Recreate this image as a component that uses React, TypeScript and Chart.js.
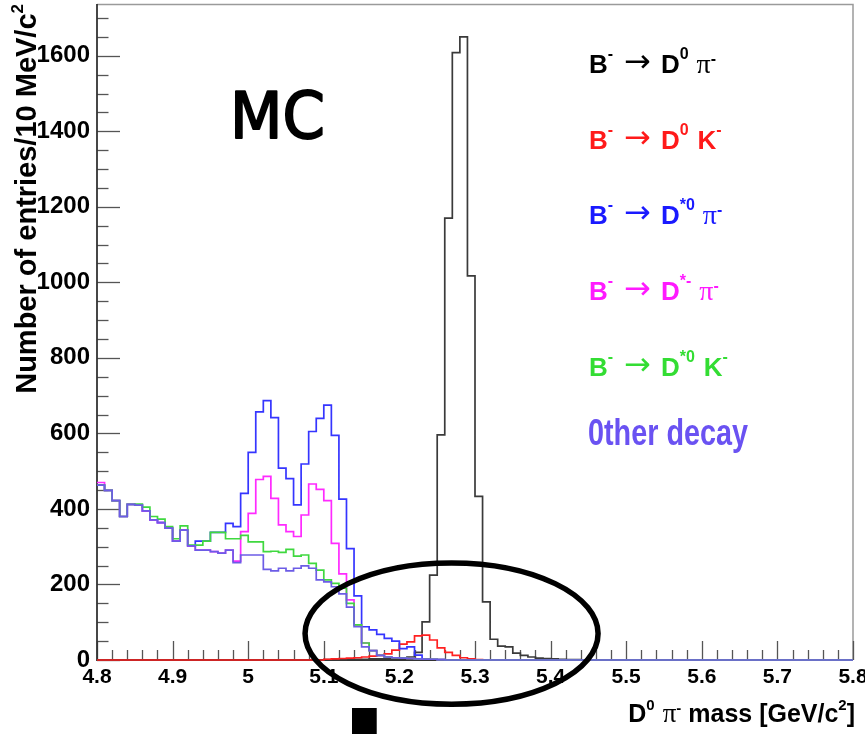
import React, { useEffect, useRef } from 'react';
import { Chart, registerables } from 'chart.js';

Chart.register(...registerables);

// ---------- axis definition ----------
const X_MIN = 4.8;
const X_MAX = 5.8;
const BIN_WIDTH = 0.01; // 10 MeV bins
const N_BINS = 100;
const Y_MIN = 0;
const Y_MAX = 1737;

const xTickValues = [4.8, 4.9, 5.0, 5.1, 5.2, 5.3, 5.4, 5.5, 5.6, 5.7, 5.8];
const xTickLabels = ['4.8', '4.9', '5', '5.1', '5.2', '5.3', '5.4', '5.5', '5.6', '5.7', '5.8'];
const xMinorStep = 0.02;
const yTickValues = [0, 200, 400, 600, 800, 1000, 1200, 1400, 1600];
const yTickLabels = ['0', '200', '400', '600', '800', '1000', '1200', '1400', '1600'];
const yMinorStep = 50;

// ---------- histogram contents (entries per 10 MeV bin, starting at 4.80) ----------
const otherDecay = [
  463, 449, 422, 380, 412, 410, 395, 371, 364, 349,
  315, 344, 302, 291, 291, 287, 283, 291, 258, 278,
  278, 278, 240, 236, 243, 236, 243, 249, 243, 212,
  207, 194, 175, 140, 88, 35, 25, 12, 8, 6,
  5, 4, 3, 2, 2, 1,
];
const dStar0K = [
  463, 449, 422, 380, 412, 413, 405, 380, 373, 353,
  321, 355, 304, 304, 315, 338, 338, 321, 321, 330,
  313, 313, 287, 288, 285, 293, 275, 278, 256, 238,
  212, 203, 190, 150, 93, 45, 25, 12, 8, 6,
  5, 4, 3, 2, 2, 1,
];
const dStarMinusPi = [
  470, 449, 422, 380, 412, 410, 395, 371, 364, 349,
  315, 344, 302, 291, 291, 287, 283, 291, 262, 340,
  388, 478, 486, 428, 358, 340, 327, 384, 466, 452,
  422, 309, 228, 159, 93, 45, 25, 12, 8, 6,
  5, 4, 3, 2, 2, 1,
];
const dStar0Pi = [
  463, 449, 422, 380, 412, 410, 395, 371, 364, 349,
  315, 344, 302, 315, 315, 338, 338, 362, 353, 441,
  550, 657, 687, 642, 508, 480, 411, 519, 605, 640,
  675, 595, 426, 295, 170, 88, 80, 68, 57, 50,
  30, 35, 13, 3, 2, 1,
];
const d0KStartBin = 30; // first listed bin = 5.10
const d0K = [
  2, 3, 4, 5, 6, 8, 10, 12, 16, 26,
  42, 48, 64, 66, 53, 32, 20, 12, 6, 3,
  1,
];
const d0PiStartBin = 30; // first listed bin = 5.10
const d0Pi = [
  1, 1, 1, 2, 2, 2, 3, 3, 4, 4,
  5, 8, 20, 101, 225, 596, 1170, 1608, 1650, 1017,
  433, 154, 55, 37, 35, 18, 12, 8, 5, 4,
  3, 2, 1, 1,
];

// legend: [text, style]  n = bold letter, s = superscript, a = arrow, g = greek
const legendLabels: [string, string][][] = [
  [['B', 'n'], ['-', 's'], ['→', 'a'], ['D', 'n'], ['0', 's'], ['π', 'g'], ['-', 'p']],
  [['B', 'n'], ['-', 's'], ['→', 'a'], ['D', 'n'], ['0', 's'], ['K', 'n'], ['-', 's']],
  [['B', 'n'], ['-', 's'], ['→', 'a'], ['D', 'n'], ['*0', 's'], ['π', 'g'], ['-', 'p']],
  [['B', 'n'], ['-', 's'], ['→', 'a'], ['D', 'n'], ['*-', 's'], ['π', 'g'], ['-', 'p']],
  [['B', 'n'], ['-', 's'], ['→', 'a'], ['D', 'n'], ['*0', 's'], ['K', 'n'], ['-', 's']],
];
const otherLabel = '0ther decay';
const legendColors = ['#000000', '#ff1a1a', '#1a1aff', '#ff1aff', '#33dd33', '#6a52f2'];

const xTitleParts: [string, string][] = [
  ['D', 'n'], ['0', 's'], ['π', 'g'], ['-', 'p'], [' mass [GeV/c', 'n'], ['2', 's'], [']', 'n'],
];
const yTitleParts: [string, string][] = [['Number of entries/10 MeV/c', 'n'], ['2', 's']];
const mcLabel = 'MC';

// ---------- helpers ----------
function histPoints(values: number[], startBin: number) {
  const pts: { x: number; y: number }[] = [];
  for (let i = 0; i <= N_BINS; i++) {
    const k = Math.min(i, N_BINS - 1) - startBin;
    const v = k >= 0 && k < values.length ? values[k] : 0;
    pts.push({ x: X_MIN + i * BIN_WIDTH, y: v });
  }
  return pts;
}

type Style = { font: string; dy: number };

function drawRich(
  ctx: CanvasRenderingContext2D,
  parts: [string, string][],
  styles: Record<string, Style>,
  gap: (prev: string | null, cur: string) => number,
  x: number,
  y: number,
  align: 'left' | 'right'
) {
  const gaps: number[] = [];
  let total = 0;
  let prev: string | null = null;
  parts.forEach(([t, s]) => {
    ctx.font = styles[s].font;
    const w = ctx.measureText(t).width;
    const g = gap(prev, s);
    gaps.push(g);
    total += g + w;
    prev = s;
  });
  let cx = align === 'left' ? x : x - total;
  ctx.textAlign = 'left';
  ctx.textBaseline = 'alphabetic';
  parts.forEach(([t, s], i) => {
    ctx.font = styles[s].font;
    cx += gaps[i];
    ctx.fillText(t, cx, y + styles[s].dy);
    cx += ctx.measureText(t).width;
  });
}

const legendGap = (prev: string | null, cur: string) => {
  if (prev === null) return 0;
  if (cur === 'a') return 11;
  if (prev === 'a') return 10;
  if (cur === 'g') return 8;
  if (cur === 'n' && prev === 's') return 9;
  return 0;
};

const framePlugin = {
  id: 'frameTicks',
  beforeDatasetsDraw(chart: any) {
    const { ctx, chartArea: a, scales } = chart;
    const xs = scales.x;
    const ys = scales.y;
    ctx.save();
    // frame
    ctx.strokeStyle = '#9a9a9a';
    ctx.lineWidth = 1.5;
    ctx.beginPath();
    ctx.moveTo(a.left, a.top + 0.5);
    ctx.lineTo(a.right, a.top + 0.5);
    ctx.lineTo(a.right, a.bottom);
    ctx.stroke();
    // inward ticks
    ctx.strokeStyle = '#555';
    ctx.lineWidth = 1.3;
    for (let v = Y_MIN; v <= Y_MAX; v += yMinorStep) {
      const py = Math.round(ys.getPixelForValue(v)) + 0.5;
      const len = yTickValues.includes(v) ? 23 : 11.5;
      ctx.beginPath();
      ctx.moveTo(a.left, py);
      ctx.lineTo(a.left + len, py);
      ctx.stroke();
    }
    const nx = Math.round((X_MAX - X_MIN) / xMinorStep);
    for (let k = 0; k <= nx; k++) {
      const v = X_MIN + k * xMinorStep;
      const px = Math.round(xs.getPixelForValue(v)) + 0.5;
      const len = k % 5 === 0 ? 19 : 10;
      ctx.beginPath();
      ctx.moveTo(px, a.bottom);
      ctx.lineTo(px, a.bottom - len);
      ctx.stroke();
    }
    // axis lines
    ctx.strokeStyle = '#333';
    ctx.lineWidth = 1.8;
    ctx.beginPath();
    ctx.moveTo(a.left, a.top);
    ctx.lineTo(a.left, a.bottom);
    ctx.lineTo(a.right, a.bottom);
    ctx.stroke();
    ctx.restore();
  },
  afterDraw(chart: any) {
    const { ctx, chartArea: a, scales } = chart;
    const xs = scales.x;
    const ys = scales.y;
    ctx.save();
    ctx.fillStyle = '#000';

    // MC label
    ctx.save();
    ctx.translate(xs.getPixelForValue(4.976), ys.getPixelForValue(1383));
    ctx.scale(0.95, 1);
    ctx.font = '64px "DejaVu Sans"';
    ctx.textAlign = 'left';
    ctx.textBaseline = 'alphabetic';
    ctx.lineWidth = 2;
    ctx.strokeStyle = '#000';
    ctx.lineJoin = 'round';
    ctx.fillText(mcLabel, 0, 0);
    ctx.strokeText(mcLabel, 0, 0);
    ctx.restore();

    // legend
    const lx = a.left + 492;
    const legendStyles: Record<string, Style> = {
      n: { font: 'bold 26px "Liberation Sans"', dy: 0 },
      s: { font: 'bold 16px "Liberation Sans"', dy: -14 },
      p: { font: 'bold 16px "Liberation Sans"', dy: -9 },
      a: { font: '32px "DejaVu Sans"', dy: -1 },
      g: { font: '28px "Liberation Serif"', dy: 0 },
    };
    legendLabels.forEach((parts, i) => {
      ctx.fillStyle = legendColors[i];
      drawRich(ctx, parts, legendStyles, legendGap, lx, 73 + i * 75.7, 'left');
    });
    ctx.save();
    ctx.fillStyle = legendColors[5];
    ctx.translate(lx - 1, 445);
    ctx.scale(0.8, 1);
    ctx.font = 'bold 36px "Liberation Sans"';
    ctx.textAlign = 'left';
    ctx.fillText(otherLabel, 0, 0);
    ctx.restore();

    // x title
    ctx.fillStyle = '#000';
    const xtStyles: Record<string, Style> = {
      n: { font: 'bold 25px "Liberation Sans"', dy: 0 },
      s: { font: 'bold 15px "Liberation Sans"', dy: -12 },
      p: { font: 'bold 15px "Liberation Sans"', dy: -9 },
      g: { font: '27px "Liberation Serif"', dy: 0 },
    };
    drawRich(ctx, xTitleParts, xtStyles, (p, c) => (p === null ? 0 : c === 'g' ? 8 : 0), a.right + 2, 722, 'right');

    // y title (rotated, aligned to top end)
    const ytStyles: Record<string, Style> = {
      n: { font: 'bold 29px "Liberation Sans"', dy: 0 },
      s: { font: 'bold 17px "Liberation Sans"', dy: -13 },
    };
    ctx.save();
    ctx.translate(36, a.top);
    ctx.rotate(-Math.PI / 2);
    drawRich(ctx, yTitleParts, ytStyles, () => 0, 0, 0, 'right');
    ctx.restore();

    // highlight ellipse
    const cx = xs.getPixelForValue(5.269);
    const cy = ys.getPixelForValue(70);
    const rx = xs.getPixelForValue(5.269 + 0.1938) - cx;
    const ry = cy - ys.getPixelForValue(70 + 187);
    ctx.strokeStyle = '#000';
    ctx.lineWidth = 5.5;
    ctx.beginPath();
    ctx.ellipse(cx, cy, rx, ry, 0, 0, Math.PI * 2);
    ctx.stroke();

    // black square marker under the axis
    const sx0 = xs.getPixelForValue(5.1373);
    const sx1 = xs.getPixelForValue(5.17);
    ctx.fillStyle = '#000';
    ctx.fillRect(sx0, a.bottom + 48, sx1 - sx0, chart.height - (a.bottom + 48));
    ctx.restore();
  },
};

const seriesDefs = [
  { label: 'Other decay', values: otherDecay, start: 0, color: '#6c5ce6' },
  { label: 'B- → D*0 K-', values: dStar0K, start: 0, color: '#3fd83f' },
  { label: 'B- → D*- π-', values: dStarMinusPi, start: 0, color: '#ff2aff' },
  { label: 'B- → D*0 π-', values: dStar0Pi, start: 0, color: '#3535ff' },
  { label: 'B- → D0 K-', values: d0K, start: d0KStartBin, color: '#ff2020' },
  { label: 'B- → D0 π-', values: d0Pi, start: d0PiStartBin, color: '#3a3a3a' },
];

export default function App() {
  const ref = useRef<HTMLCanvasElement>(null);
  useEffect(() => {
    if (!ref.current) return;
    const chart = new Chart(ref.current, {
      type: 'line',
      data: {
        datasets: seriesDefs.map((s) => ({
          label: s.label,
          data: histPoints(s.values, s.start),
          borderColor: s.color,
          backgroundColor: s.color,
          borderWidth: 1.7,
          pointRadius: 0,
          stepped: 'before' as const,
          tension: 0,
          fill: false,
          clip: 3,
        })),
      },
      options: {
        animation: false,
        responsive: false,
        devicePixelRatio: 1,
        layout: { padding: { left: 0, right: 12, top: 4, bottom: 0 } },
        plugins: {
          legend: { display: false },
          tooltip: { enabled: false },
          title: { display: false },
        },
        scales: {
          x: {
            type: 'linear',
            min: X_MIN,
            max: X_MAX,
            grid: { display: false, drawTicks: false },
            border: { display: false },
            afterBuildTicks: (s: any) => {
              s.ticks = xTickValues.map((v) => ({ value: v }));
            },
            afterFit: (s: any) => {
              s.height = 74;
              s.paddingLeft = 0;
              s.paddingRight = 0;
            },
            ticks: {
              autoSkip: false,
              maxRotation: 0,
              minRotation: 0,
              padding: 5,
              color: '#000',
              font: { family: 'Liberation Sans', weight: 'bold', size: 21 },
              callback: (_v: any, i: number) => xTickLabels[i],
            },
          },
          y: {
            type: 'linear',
            min: Y_MIN,
            max: Y_MAX,
            grid: { display: false, drawTicks: false },
            border: { display: false },
            afterBuildTicks: (s: any) => {
              s.ticks = yTickValues.map((v) => ({ value: v }));
            },
            afterFit: (s: any) => {
              s.width = 97;
              s.paddingTop = 0;
              s.paddingBottom = 0;
            },
            ticks: {
              padding: 7,
              color: '#000',
              font: { family: 'Liberation Sans', weight: 'bold', size: 24 },
              callback: (_v: any, i: number) => yTickLabels[i],
            },
          },
        },
      },
      plugins: [framePlugin],
    } as any);
    return () => chart.destroy();
  }, []);
  return (
    <div style={{ position: 'absolute', left: 0, top: 0, width: 865, height: 734, background: '#fff' }}>
      <canvas ref={ref} width={865} height={734} style={{ display: 'block' }} />
    </div>
  );
}
